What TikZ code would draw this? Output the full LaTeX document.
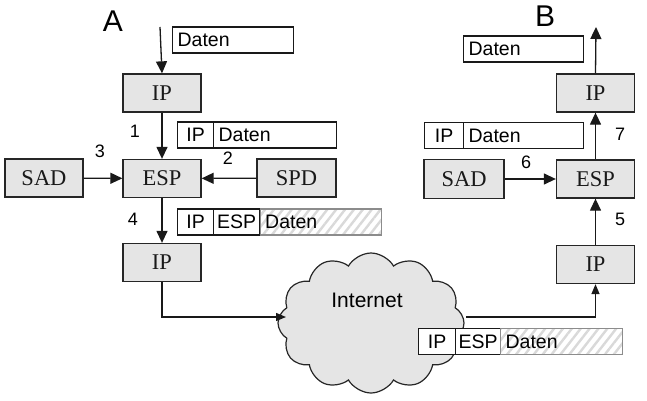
\documentclass[tikz,border=0pt]{standalone}
\usepackage{fontspec}
\setmainfont{Liberation Serif}
\newfontfamily\sansf{Liberation Sans}
\usetikzlibrary{arrows.meta,shapes.symbols,patterns.meta}
\tikzset{
  box/.style={draw=black!85, line width=1.3pt, fill=black!10, minimum width=78pt, minimum height=38pt, inner sep=0pt, text=black!90, font=\fontsize{22.5}{26}\selectfont},
  cell/.style={draw=black!90, line width=1.2pt, fill=white, minimum height=26pt, inner ysep=0pt, inner xsep=0pt, anchor=west, font=\sansf\fontsize{19.5}{23}\selectfont},
  dcell/.style={cell, align=left, inner xsep=5pt, text width=#1},
  hcell/.style={dcell=#1, draw=black!45, preaction={fill=white}, pattern={Lines[angle=52,distance=7pt,line width=2.4pt]}, pattern color=black!15},
  arr/.style={line width=1.3pt, draw=black!90, -{Triangle[length=12pt,width=11pt]}},
  arrs/.style={line width=1.3pt, draw=black!90, -{Triangle[length=10pt,width=8pt]}},
  num/.style={font=\sansf\fontsize{18}{22}\selectfont, inner sep=0pt},
  big/.style={font=\sansf\fontsize{30}{34}\selectfont, inner sep=0pt}
}
\begin{document}
\begin{tikzpicture}[x=1pt,y=-1pt]
\useasboundingbox (0,0) rectangle (647,401);
% cloud
\node[cloud, cloud puffs=12, cloud puff arc=120, aspect=1.3, draw=black!85, line width=1.2pt, fill=black!10, minimum width=186pt, minimum height=140pt, inner sep=0pt] (cloud) at (371,323) {};
\node[font=\sansf\fontsize{21}{25}\selectfont, inner sep=0pt] (internet) at (367,300) {Internet};
% side A
\node[big] (labA) at (113,21) {A};
\node[box] (ipA) at (162,93) {IP};
\node[box] (espA) at (162,178.5) {ESP};
\node[box] (sadA) at (44,178) {SAD};
\node[box, minimum width=79pt] (spd) at (296.5,178) {SPD};
\node[box] (ipA2) at (162,262.5) {IP};
% packets A
\node[dcell=111pt] (dA) at (172,40) {Daten};
\node[cell, minimum width=36pt] (pa1ip) at (177,135) {IP};
\node[dcell=113pt] (pa1d) at (213,135) {Daten};
\node[cell, minimum width=36pt] (pa2ip) at (177,222) {IP};
\node[cell, minimum width=46pt] (pa2esp) at (213,222) {ESP};
\node[hcell=111pt] (pa2d) at (259,222) {Daten};
% packet on the way
\node[cell, minimum width=37pt] (pcip) at (418,341.5) {IP};
\node[cell, minimum width=45pt] (pcesp) at (455,341.5) {ESP};
\node[hcell=112pt] (pcd) at (500,341.5) {Daten};
% side B
\node[big] (labB) at (545,16) {B};
\node[box] (ipB) at (595.5,93) {IP};
\node[box] (espB) at (595.5,179) {ESP};
\node[box, minimum width=80pt, minimum height=39pt] (sadB) at (464,179) {SAD};
\node[box] (ipB2) at (595.5,264.5) {IP};
\node[dcell=110pt] (dB) at (463,49) {Daten};
\node[cell, minimum width=39pt] (pb1ip) at (424,135.5) {IP};
\node[dcell=110pt] (pb1d) at (463,135.5) {Daten};
% numbers
\node[num] (n1) at (135,131) {1};
\node[num] (n2) at (228,158) {2};
\node[num] (n3) at (100,151) {3};
\node[num] (n4) at (133,219) {4};
\node[num] (n5) at (620,219) {5};
\node[num] (n6) at (526,162) {6};
\node[num] (n7) at (620,134) {7};
% connectors
\coordinate (inA) at (160,27);
\coordinate (outB) at (596,27);
\coordinate (cin) at (286,317);
\coordinate (cout) at (466,317);
\draw[arr] (inA) -- (ipA.north);
\draw[arr] (ipA) -- (espA);
\draw[arr] (sadA) -- (espA);
\draw[arr] (spd) -- (espA);
\draw[arr] (espA) -- (ipA2);
\draw[arrs] (ipA2.south) |- (cin);
\draw[arrs] (cout) -| (ipB2.south);
\draw[arr] (ipB2) -- (espB);
\draw[arr] (espB) -- (ipB);
\draw[arr] (ipB.north) -- (outB);
\draw[arr] (sadB) -- (espB);
\end{tikzpicture}
\end{document}
